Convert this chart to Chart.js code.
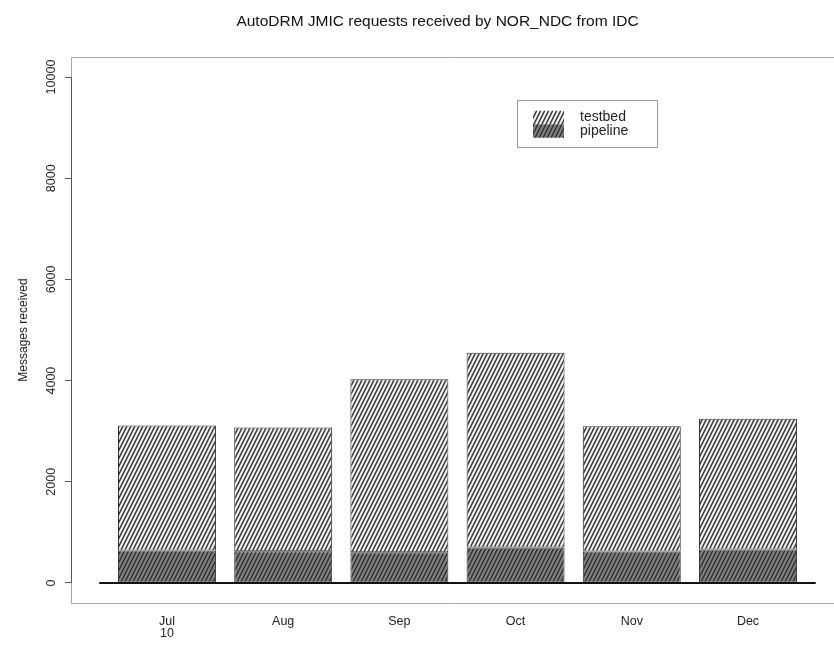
<!DOCTYPE html>
<html>
<head>
<meta charset="utf-8">
<script src="https://cdn.jsdelivr.net/npm/chart.js@4.4.0/dist/chart.umd.min.js"></script>
<style>
  html, body { margin: 0; padding: 0; background: #ffffff; }
  #wrap { width: 834px; height: 648px; }
</style>
</head>
<body>
<div id="wrap"><canvas id="c" width="834" height="648"></canvas></div>
<script>
// ---- data ----
const categories = ['Jul', 'Aug', 'Sep', 'Oct', 'Nov', 'Dec'];
const subLabels  = ['10', '', '', '', '', ''];
const pipeline   = [640, 625, 605, 700, 620, 660];
const testbed    = [2470, 2450, 3420, 3850, 2480, 2585];
const yTicks     = [0, 2000, 4000, 6000, 8000, 10000];
const seriesNames = ['testbed', 'pipeline'];
const titleText  = 'AutoDRM JMIC requests received by NOR_NDC from IDC';
const yTitle     = 'Messages received';

const FONT = '"Liberation Sans", Arial, Helvetica, sans-serif';
const ctx = document.getElementById('c').getContext('2d');

function hatch(bg, fg, w, h, lw) {
  const c = document.createElement('canvas');
  c.width = w; c.height = h;
  const g = c.getContext('2d');
  g.fillStyle = bg; g.fillRect(0, 0, w, h);
  g.strokeStyle = fg; g.lineWidth = lw;
  g.beginPath();
  for (let k = -3; k <= 3; k++) {
    g.moveTo(k * w - w, 2 * h);
    g.lineTo(k * w + 2 * w, -h);
  }
  g.stroke();
  return ctx.createPattern(c, 'repeat');
}
const testbedFill  = hatch('#f4f4f4', '#3c3c3c', 4, 8, 1.5);
const pipelineFill = hatch('#808080', '#2e2e2e', 4, 8, 1.4);

const points = arr => arr.map((v, i) => ({ x: i + 1, y: v }));

const framePlugin = {
  id: 'frame',
  beforeDatasetsDraw(chart) {
    const { ctx, chartArea: a, scales: { y } } = chart;
    ctx.save();
    ctx.strokeStyle = '#a8a8a8';
    ctx.lineWidth = 1;
    const L = Math.round(a.left) + 0.5, T = Math.round(a.top) + 0.5, B = Math.round(a.bottom) + 0.5;
    ctx.beginPath();
    ctx.moveTo(chart.width, T); ctx.lineTo(L, T); ctx.lineTo(L, B); ctx.lineTo(chart.width, B);
    ctx.stroke();
    // y axis line over the tick range
    ctx.strokeStyle = '#555555';
    ctx.beginPath();
    ctx.moveTo(L, y.getPixelForValue(yTicks[0]));
    ctx.lineTo(L, y.getPixelForValue(yTicks[yTicks.length - 1]));
    ctx.stroke();
    ctx.restore();
  },
  afterDatasetsDraw(chart) {
    const { ctx, scales: { x, y } } = chart;
    ctx.save();
    ctx.strokeStyle = '#111111';
    ctx.lineWidth = 2;
    const y0 = y.getPixelForValue(0);
    ctx.beginPath();
    ctx.moveTo(x.getPixelForValue(0.417), y0);
    ctx.lineTo(x.getPixelForValue(categories.length + 0.583), y0);
    ctx.stroke();
    // legend
    const lx = 517.5, ly = 100.5, lw = 140, lh = 47;
    ctx.fillStyle = '#ffffff';
    ctx.fillRect(lx, ly, lw, lh);
    ctx.strokeStyle = '#9a9a9a';
    ctx.lineWidth = 1;
    ctx.strokeRect(lx, ly, lw, lh);
    const fills = [testbedFill, pipelineFill];
    ctx.font = '14px ' + FONT;
    ctx.textBaseline = 'middle';
    ctx.textAlign = 'left';
    seriesNames.forEach((name, i) => {
      const cy = 117.5 + i * 13.5;
      ctx.fillStyle = fills[i];
      ctx.fillRect(533, cy - 6.75, 31, 13.5);
      ctx.fillStyle = '#222222';
      ctx.fillText(name, 580, cy);
    });
    ctx.restore();
  }
};

new Chart(ctx, {
  type: 'bar',
  data: {
    datasets: [
      { label: seriesNames[1], data: points(pipeline), backgroundColor: pipelineFill,
        borderColor: '#333333', borderWidth: 1, borderSkipped: false },
      { label: seriesNames[0], data: points(testbed), backgroundColor: testbedFill,
        borderColor: '#333333', borderWidth: 1, borderSkipped: false }
    ]
  },
  options: {
    responsive: false,
    animation: false,
    devicePixelRatio: 1,
    layout: { padding: { left: 0, right: 30, top: 0, bottom: 0 } },
    datasets: { bar: { barPercentage: 0.843, categoryPercentage: 1 } },
    plugins: {
      legend: { display: false },
      tooltip: { enabled: false },
      title: {
        display: true, text: titleText, fullSize: false,
        color: '#111111', font: { family: FONT, size: 15.5, weight: 'normal', lineHeight: 1.2 },
        padding: { top: 12, bottom: 26.2 }
      }
    },
    scales: {
      x: {
        type: 'linear', stacked: true, min: 0.174, max: 6.482, offset: false,
        grid: { display: false, drawTicks: false, offset: false },
        border: { display: false },
        afterBuildTicks: s => { s.ticks = categories.map((c, i) => ({ value: i + 1 })); },
        afterFit: s => { s.height = 44.8; },
        ticks: {
          autoSkip: false, maxRotation: 0, minRotation: 0, padding: 12,
          color: '#222222', font: { family: FONT, size: 12.5, lineHeight: 1.0 },
          callback: (v) => {
            const i = Math.round(v) - 1;
            return subLabels[i] ? [categories[i], subLabels[i]] : categories[i];
          }
        }
      },
      y: {
        stacked: true, min: -400, max: 10400,
        afterBuildTicks: s => { s.ticks = yTicks.map(v => ({ value: v })); },
        afterFit: s => { s.width = 71; },
        grid: { display: true, drawOnChartArea: false, drawTicks: true, tickLength: 6, color: '#555555' },
        border: { display: false },
        ticks: {
          minRotation: 90, maxRotation: 90, crossAlign: 'center', padding: -4,
          color: '#222222', font: { family: FONT, size: 12.5 },
          callback: v => String(v)
        },
        title: {
          display: true, text: yTitle, color: '#222222',
          font: { family: FONT, size: 12 }, padding: { top: 16, bottom: 0 }
        }
      }
    }
  },
  plugins: [framePlugin]
});
</script>
</body>
</html>
